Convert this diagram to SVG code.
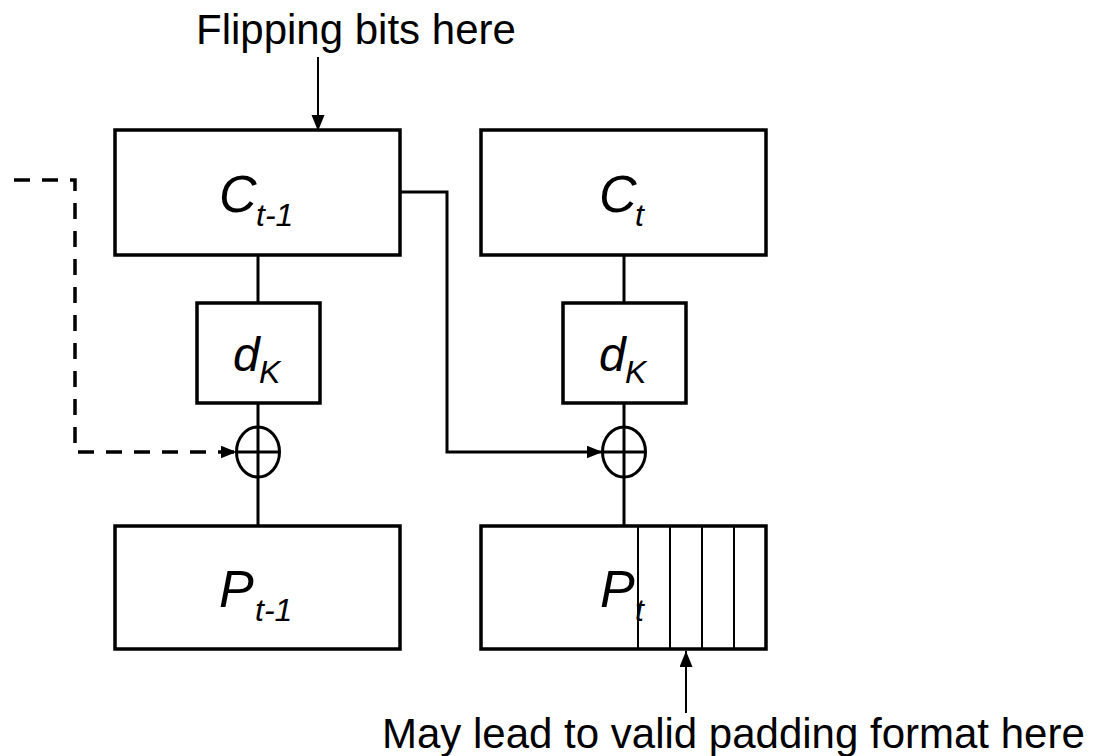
<svg xmlns="http://www.w3.org/2000/svg" width="1097" height="756" viewBox="0 0 1097 756">
  <style>
    .box { fill: #ffffff; stroke: #000000; stroke-width: 3.5; }
    .xor { fill: none; stroke: #000000; stroke-width: 3; }
    .wire { fill: none; stroke: #000000; stroke-width: 3; }
    .dash { fill: none; stroke: #000000; stroke-width: 3.5; stroke-dasharray: 16 12; }
    .thin { fill: none; stroke: #000000; stroke-width: 2; }
    .lbl { font-family: "Liberation Sans", Arial, sans-serif; font-style: italic; fill: #000000; }
    .main { font-size: 52px; }
    .dk { font-size: 48px; }
    .sub { font-size: 32px; }
    .note { font-family: "Liberation Sans", Arial, sans-serif; font-size: 42px; fill: #000000; }
  </style>
  <defs>
    <marker id="head" markerUnits="userSpaceOnUse" markerWidth="18" markerHeight="14" refX="16" refY="6.5" orient="auto">
      <path d="M0,0 L16,6.5 L0,13 Z" fill="#000000"/>
    </marker>
  </defs>

  <rect width="1097" height="756" fill="#ffffff"/>

  <!-- connectors -->
  <g id="connectors">
    <!-- decryption chains -->
    <line class="wire" x1="258" y1="255" x2="258" y2="303"/>
    <line class="wire" x1="258" y1="403" x2="258" y2="526"/>
    <line class="wire" x1="624" y1="255" x2="624" y2="303"/>
    <line class="wire" x1="624" y1="403" x2="624" y2="526"/>
    <!-- previous ciphertext block into the XOR of block t -->
    <path class="wire" d="M400,192 H447 V452 H602.5" marker-end="url(#head)"/>
    <!-- chaining input from the block before -->
    <path class="dash" d="M14,180 H75 V452 H236.5" marker-end="url(#head)"/>
    <!-- annotation arrows -->
    <line class="thin" x1="318" y1="57" x2="318" y2="131" marker-end="url(#head)"/>
    <line class="thin" x1="686" y1="713" x2="686" y2="651" marker-end="url(#head)"/>
  </g>

  <g id="c-prev">
    <rect class="box" x="115" y="130" width="285" height="125"/>
    <text class="lbl main" x="219" y="212">C</text>
    <text class="lbl sub" x="256" y="226">t-1</text>
  </g>

  <g id="c-cur">
    <rect class="box" x="481" y="130" width="285" height="125"/>
    <text class="lbl main" x="599" y="212">C</text>
    <text class="lbl sub" x="635" y="226">t</text>
  </g>

  <g id="dk-prev">
    <rect class="box" x="197" y="303" width="123" height="100"/>
    <text class="lbl dk" x="233" y="371">d</text>
    <text class="lbl sub" x="259" y="383">K</text>
  </g>

  <g id="dk-cur">
    <rect class="box" x="563" y="303" width="123" height="100"/>
    <text class="lbl dk" x="599" y="371">d</text>
    <text class="lbl sub" x="625" y="383">K</text>
  </g>

  <g id="xor-prev">
    <ellipse class="xor" cx="258" cy="452" rx="21.5" ry="25"/>
    <line class="xor" x1="236.5" y1="452" x2="279.5" y2="452"/>
  </g>

  <g id="xor-cur">
    <ellipse class="xor" cx="624" cy="452" rx="21.5" ry="25"/>
    <line class="xor" x1="602.5" y1="452" x2="645.5" y2="452"/>
  </g>

  <g id="p-prev">
    <rect class="box" x="115" y="526" width="285" height="123"/>
    <text class="lbl main" x="219" y="607">P</text>
    <text class="lbl sub" x="255" y="621">t-1</text>
  </g>

  <g id="p-cur">
    <rect class="box" x="481" y="526" width="285" height="123"/>
    <text class="lbl main" x="600" y="607">P</text>
    <text class="lbl sub" x="635" y="621">t</text>
    <!-- padding bytes -->
    <line class="thin" x1="638" y1="526" x2="638" y2="649"/>
    <line class="thin" x1="670" y1="526" x2="670" y2="649"/>
    <line class="thin" x1="702" y1="526" x2="702" y2="649"/>
    <line class="thin" x1="734" y1="526" x2="734" y2="649"/>
  </g>

  <g id="note-flip">
    <text class="note" x="196" y="44">Flipping bits here</text>
  </g>

  <g id="note-padding">
    <text class="note" x="382" y="748">May lead to valid padding format here</text>
  </g>
</svg>
